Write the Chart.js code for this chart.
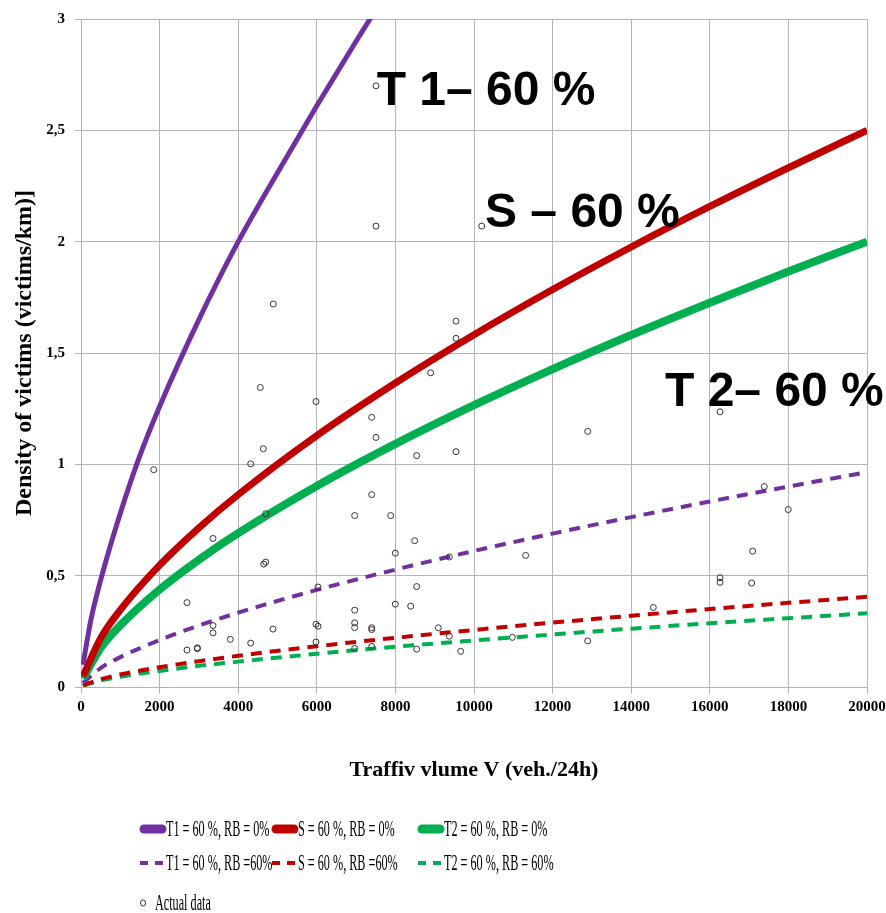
<!DOCTYPE html>
<html>
<head>
<meta charset="utf-8">
<script src="https://cdn.jsdelivr.net/npm/chart.js@4/dist/chart.umd.min.js"></script>
<style>
  body { margin: 0; background: #fff; }
  #wrap { width: 886px; height: 913px; }
</style>
</head>
<body>
<div id="wrap"><canvas id="densityChart" width="886" height="913"></canvas></div>
<script>
// values
const t1SolidX = [50, 250, 500, 1000, 1500, 2000, 3000, 4000, 5000, 6000, 7000, 8000];
const t1SolidY = [0.10, 0.30, 0.48, 0.78, 1.04, 1.26, 1.65, 2.00, 2.31, 2.61, 2.90, 3.18];

const curveX = [50, 500, 1000, 2000, 3000, 4000, 6000, 8000, 10000, 12000, 14000, 16000, 18000, 20000];
const sSolidY  = [0.048, 0.219, 0.346, 0.547, 0.715, 0.864, 1.129, 1.365, 1.582, 1.785, 1.976, 2.158, 2.332, 2.50];
const t2SolidY = [0.038, 0.175, 0.277, 0.438, 0.572, 0.691, 0.903, 1.092, 1.266, 1.428, 1.581, 1.726, 1.866, 2.00];
const t1DashY  = [0.018, 0.085, 0.134, 0.211, 0.276, 0.334, 0.436, 0.527, 0.611, 0.689, 0.763, 0.833, 0.900, 0.965];
const sDashY   = [0.008, 0.035, 0.056, 0.089, 0.116, 0.140, 0.183, 0.221, 0.256, 0.289, 0.320, 0.350, 0.378, 0.405];
const t2DashY  = [0.006, 0.029, 0.046, 0.072, 0.095, 0.114, 0.149, 0.181, 0.209, 0.236, 0.262, 0.286, 0.309, 0.331];

const actualX = [7506, 7506, 10196, 4893, 9542, 9542, 4563, 5980, 7397, 7506, 1849, 4640, 4318, 7397, 6964,
  4699, 3359, 4650, 4699, 6031, 2697, 6964, 6964, 6964, 7397, 3359, 3359, 4885, 3800, 5980, 6031, 4318,
  5980, 2697, 2961, 2961, 6964, 7397, 8898, 8541, 9542, 12893, 7880, 8490, 7997, 9372, 11314, 8541, 7997,
  8389, 7397, 9092, 9372, 10975, 8541, 9661, 12893, 16260, 17387, 17997, 17091, 16260, 16260, 17066, 14563];
const actualY = [2.70, 2.07, 2.07, 1.72, 1.643, 1.566, 1.345, 1.282, 1.211, 1.121, 0.976, 1.07, 1.002, 0.864, 0.770,
  0.778, 0.667, 0.552, 0.561, 0.449, 0.379, 0.345, 0.288, 0.267, 0.266, 0.276, 0.243, 0.260, 0.214, 0.282, 0.273, 0.197,
  0.202, 0.166, 0.176, 0.172, 0.173, 0.182, 1.411, 1.039, 1.057, 1.148, 0.770, 0.657, 0.601, 0.584, 0.591, 0.451, 0.372,
  0.363, 0.258, 0.266, 0.228, 0.223, 0.170, 0.160, 0.207, 1.236, 0.900, 0.797, 0.610, 0.491, 0.470, 0.467, 0.357];

const seriesLabels = ['T1 = 60 %, RB = 0%', 'S = 60 %, RB = 0%', 'T2 = 60 %, RB = 0%',
  'T1 = 60 %, RB =60%', 'S = 60 %, RB =60%', 'T2 = 60 %, RB = 60%'];
const seriesColors = ['#7030a0', '#c00000', '#00b050', '#7030a0', '#c00000', '#00b050'];

const xTicks = [0, 2000, 4000, 6000, 8000, 10000, 12000, 14000, 16000, 18000, 20000];
const yTicks = [0, 0.5, 1, 1.5, 2, 2.5, 3];

const noteText = ['T 1\u2013 60 %', 'S \u2013 60 %', 'T 2\u2013 60 %'];
const noteX = [7524, 10280, 14860];
const noteY = [2.615, 2.064, 1.263];

function pts(xs, ys) {
    return xs.map((x, i) => ({ x: x, y: ys[i] }));
}

function curve(label, color, data, width, dashed) {
    return {
        type: 'scatter',
        label: label,
        data: data,
        showLine: true,
        borderColor: color,
        backgroundColor: color,
        borderWidth: width,
        borderDash: dashed ? [11, 8] : [],
        cubicInterpolationMode: 'monotone',
        pointRadius: 0,
        order: 1
    };
}

// big labels on the plot
const notesPlugin = {
    id: 'notes',
    afterDatasetsDraw(chart) {
        const c = chart.ctx;
        const xs = chart.scales.x, ys = chart.scales.y;
        c.save();
        c.fillStyle = '#000';
        c.font = 'bold 48px "Liberation Sans", Arial, sans-serif';
        c.textBaseline = 'alphabetic';
        noteText.forEach((t, i) => {
            c.fillText(t, xs.getPixelForValue(noteX[i]), ys.getPixelForValue(noteY[i]));
        });
        c.restore();
    }
};

// legend drawn as a 3-column grid under the chart
const legendFont = '23px "Liberation Serif", "Times New Roman", serif';
function legendText(c, text, x, y) {
    c.save();
    c.translate(x, y);
    c.scale(0.53, 1);
    c.fillStyle = '#000';
    c.font = legendFont;
    c.textBaseline = 'middle';
    c.fillText(text, 0, 1);
    c.restore();
}

const gridLegend = {
    id: 'gridLegend',
    afterDraw(chart) {
        const c = chart.ctx;
        const colX = [140, 272, 418];
        const rowY = [829, 863];
        const ds = chart.data.datasets;
        c.save();
        for (let i = 0; i < 6; i++) {
            const x = colX[i % 3], y = rowY[Math.floor(i / 3)];
            c.strokeStyle = ds[i].borderColor;
            if (i < 3) {
                c.lineWidth = 9;
                c.lineCap = 'round';
                c.beginPath(); c.moveTo(x + 4, y); c.lineTo(x + 22, y); c.stroke();
            } else {
                c.lineWidth = 4;
                c.lineCap = 'butt';
                c.beginPath(); c.moveTo(x, y); c.lineTo(x + 8, y); c.stroke();
                c.beginPath(); c.moveTo(x + 15, y); c.lineTo(x + 23, y); c.stroke();
            }
            legendText(c, ds[i].label, x + 26, y);
        }
        // actual data entry
        c.lineWidth = 1;
        c.strokeStyle = '#333';
        c.beginPath(); c.ellipse(143, 903, 2.5, 3.2, 0, 0, Math.PI * 2); c.stroke();
        legendText(c, ds[6].label, 155, 903);
        c.restore();
    }
};

const gridColor = '#b4b4b4';
const tickFont = { family: '"Liberation Serif", "Times New Roman", serif', size: 15, weight: 'bold' };

const ctx = document.getElementById('densityChart').getContext('2d');
const densityChart = new Chart(ctx, {
    type: 'scatter',
    data: {
        datasets: [
            curve(seriesLabels[0], seriesColors[0], pts(t1SolidX, t1SolidY), 5, false),
            curve(seriesLabels[1], seriesColors[1], pts(curveX, sSolidY), 7, false),
            curve(seriesLabels[2], seriesColors[2], pts(curveX, t2SolidY), 8, false),
            curve(seriesLabels[3], seriesColors[3], pts(curveX, t1DashY), 4, true),
            curve(seriesLabels[4], seriesColors[4], pts(curveX, sDashY), 4, true),
            curve(seriesLabels[5], seriesColors[5], pts(curveX, t2DashY), 4, true),
            {
                label: 'Actual data',
                data: pts(actualX, actualY),
                pointStyle: 'circle',
                pointRadius: 3,
                pointBorderWidth: 1,
                pointBorderColor: '#333',
                pointBackgroundColor: 'rgba(255,255,255,0)',
                order: 0
            }
        ]
    },
    options: {
        responsive: false,
        animation: false,
        layout: { padding: { top: 8, right: 19, bottom: 126, left: 0 } },
        plugins: {
            legend: { display: false },
            tooltip: { enabled: false }
        },
        scales: {
            x: {
                type: 'linear',
                min: 0,
                max: 20000,
                afterBuildTicks: s => { s.ticks = xTicks.map(v => ({ value: v })); },
                afterFit: s => { s.height = 100; s.paddingRight = 4; },
                grid: { color: gridColor, tickLength: 7 },
                border: { color: gridColor },
                ticks: { color: '#000', font: tickFont, padding: 4, maxRotation: 0, callback: v => String(v) },
                title: {
                    display: true,
                    text: 'Traffiv vlume V (veh./24h)',
                    color: '#000',
                    font: { family: '"Liberation Serif", "Times New Roman", serif', size: 22, weight: 'bold' },
                    padding: { top: 0, bottom: 3 }
                }
            },
            y: {
                min: 0,
                max: 3,
                afterBuildTicks: s => { s.ticks = yTicks.map(v => ({ value: v })); },
                afterFit: s => { s.width = 81; },
                grid: { color: gridColor, tickLength: 6 },
                border: { color: gridColor },
                ticks: { color: '#000', font: tickFont, padding: 10, callback: v => String(v).replace('.', ',') },
                title: {
                    display: true,
                    text: 'Density of victims (victims/km)]',
                    color: '#000',
                    font: { family: '"Liberation Serif", "Times New Roman", serif', size: 24, weight: 'bold' },
                    padding: { top: 10, bottom: 0 }
                }
            }
        }
    },
    plugins: [notesPlugin, gridLegend]
});
</script>
</body>
</html>
